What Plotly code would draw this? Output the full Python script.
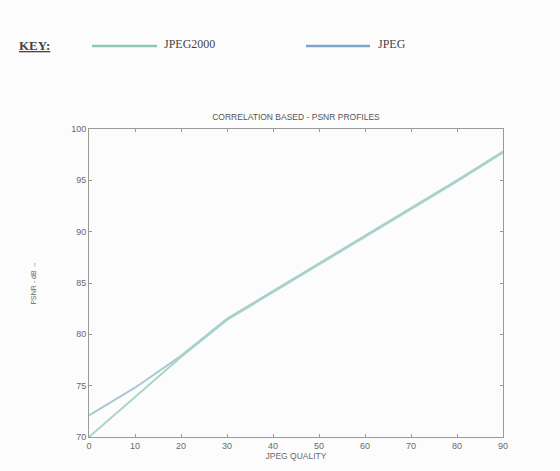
import plotly.graph_objects as go

quality = [0, 10, 20, 30, 40, 50, 60, 70, 80, 90]
psnr_jpeg2000 = [70.0, 73.9, 77.8, 81.4, 84.1, 86.8, 89.5, 92.2, 94.9, 97.7]
psnr_jpeg = [72.1, 74.8, 77.9, 81.5, 84.2, 86.9, 89.6, 92.3, 95.0, 97.8]

x_ticks = [0, 10, 20, 30, 40, 50, 60, 70, 80, 90]
y_ticks = [70, 75, 80, 85, 90, 95, 100]

GREEN = "#8ccbb0"
BLUE = "#7fa6c8"

fig = go.Figure()
fig.add_trace(go.Scatter(x=quality, y=psnr_jpeg, mode="lines", name="JPEG",
                         line=dict(color="#a9c8d6", width=2)))
fig.add_trace(go.Scatter(x=quality, y=psnr_jpeg2000, mode="lines", name="JPEG2000",
                         line=dict(color="#a6d6c6", width=2)))

axis_common = dict(showline=True, linecolor="#9a9a9a", linewidth=1, mirror="ticks",
                   ticks="inside", ticklen=3, tickcolor="#9a9a9a", showgrid=False,
                   zeroline=False, tickfont=dict(family="Liberation Sans", size=9, color="#6a6a6a"))

L, R, T, B = 89, 57, 129, 34
W, H = 560, 471

fig.update_layout(
    width=W, height=H,
    paper_bgcolor="#fdfcfc", plot_bgcolor="#fdfcfc",
    margin=dict(l=L, r=R, t=T, b=B),
    showlegend=False,
    title=dict(text="CORRELATION BASED - PSNR PROFILES", x=0.5, xanchor="center",
               xref="paper", y=1 - 117 / H, yanchor="middle",
               font=dict(family="Liberation Sans", size=8.5, color="#555")),
    xaxis=dict(range=[0, 90], tickvals=x_ticks, **axis_common,
               title=dict(text="JPEG QUALITY", standoff=1,
                          font=dict(family="Liberation Sans", size=8.5, color="#6a6a6a"))),
    yaxis=dict(range=[70, 100], tickvals=y_ticks, **axis_common,
               title=dict(text="PSNR - dB →", standoff=33,
                          font=dict(family="Liberation Sans", size=7, color="#6a6a6a"))),
)

def px_x(p):
    return (p - L) / (W - L - R)

def px_y(p):
    return (H - B - p) / (H - T - B)

fig.add_annotation(x=px_x(17), y=px_y(45), xref="paper", yref="paper",
                   xanchor="left", yanchor="middle", showarrow=False,
                   text="<b><u>KEY:</u></b>",
                   font=dict(family="Liberation Serif", size=13, color="#444"))
fig.add_shape(type="line", xref="paper", yref="paper",
              x0=px_x(92), x1=px_x(157), y0=px_y(46), y1=px_y(46),
              line=dict(color=GREEN, width=2.5))
fig.add_annotation(x=px_x(162), y=px_y(44), xref="paper", yref="paper",
                   xanchor="left", yanchor="middle", showarrow=False,
                   text="JPEG2000",
                   font=dict(family="Liberation Serif", size=12, color="#444"))
fig.add_shape(type="line", xref="paper", yref="paper",
              x0=px_x(306), x1=px_x(370), y0=px_y(46), y1=px_y(46),
              line=dict(color=BLUE, width=2.5))
fig.add_annotation(x=px_x(376), y=px_y(44), xref="paper", yref="paper",
                   xanchor="left", yanchor="middle", showarrow=False,
                   text="JPEG",
                   font=dict(family="Liberation Serif", size=12, color="#444"))

fig.write_html("out.html", post_script="document.body.style.margin='0';",
               config={"displayModeBar": False})
